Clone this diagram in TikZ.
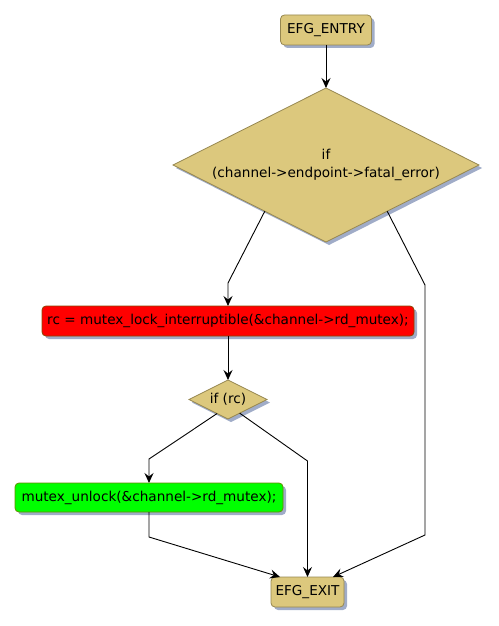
\documentclass[tikz,border=0pt]{standalone}
\usepackage{fontspec}
\setmainfont{DejaVu Sans}
\usetikzlibrary{shapes.geometric,shadows,arrows.meta,calc}
\definecolor{tan}{RGB}{220,200,125}
\definecolor{tanborder}{RGB}{150,135,80}
\definecolor{redborder}{RGB}{140,70,0}
\definecolor{greenborder}{RGB}{100,140,0}
\definecolor{shadowblue}{RGB}{160,172,200}
\begin{document}
\begin{tikzpicture}[x=1pt,y=-1pt,
  font=\fontsize{13.6}{18}\selectfont,
  shad/.style={drop shadow={shadow xshift=3pt,shadow yshift=-3pt,fill=shadowblue,opacity=1}},
  box/.style={rectangle,rounded corners=4pt,draw=tanborder,fill=tan,line width=0.8pt,shad,inner sep=0pt,outer sep=0pt},
  dia/.style={diamond,shape aspect=2,draw=tanborder,fill=tan,line width=0.8pt,shad,inner sep=0pt,outer sep=0pt,align=center},
  arr/.style={draw=black,line width=0.9pt,-{Stealth[length=10pt,width=9pt,inset=3.5pt]}}]
\useasboundingbox (0,0) rectangle (498,626);

\node[box,minimum width=91pt,minimum height=30pt] (entry) at (326,30) {EFG\_ENTRY};
\node[dia,minimum width=306pt,minimum height=154pt] (d1) at (326,165) {if\\(channel->endpoint->fatal\_error)};
\node[box,fill=red,draw=redborder,minimum width=372pt,minimum height=30pt] (lock) at (228,321) {rc = mutex\_lock\_interruptible(\&channel->rd\_mutex);};
\node[dia,minimum width=78pt,minimum height=39pt] (d2) at (228,399.5) {if (rc)};
\node[box,fill=green,draw=greenborder,minimum width=268pt,minimum height=29pt] (unlock) at (149,497.5) {mutex\_unlock(\&channel->rd\_mutex);};
\node[box,minimum width=73pt,minimum height=30pt] (exit) at (307.5,592) {EFG\_EXIT};

\coordinate (d1l) at ($(d1.west)!0.6!(d1.south)$);
\coordinate (d1r) at ($(d1.east)!0.6!(d1.south)$);
\coordinate (d2l) at ($(d2.west)!0.72!(d2.south)$);
\coordinate (d2r) at ($(d2.east)!0.7!(d2.south)$);

\draw[arr] (entry.south) -- (d1.north);
\draw[arr] (d1l) -- (228,283) -- (lock.north);
\draw[arr] (d1r) -- (425,285) -- (425,535) -- ($(exit.north east)+(-11,0)$);
\draw[arr] (lock.south) -- (d2.north);
\draw[arr] (d2l) -- (149,459) -- (unlock.north);
\draw[arr] (d2r) -- (307.5,461) -- (exit.north);
\draw[arr] (unlock.south) -- (149,537) -- ($(exit.north west)+(9,0)$);
\end{tikzpicture}
\end{document}
